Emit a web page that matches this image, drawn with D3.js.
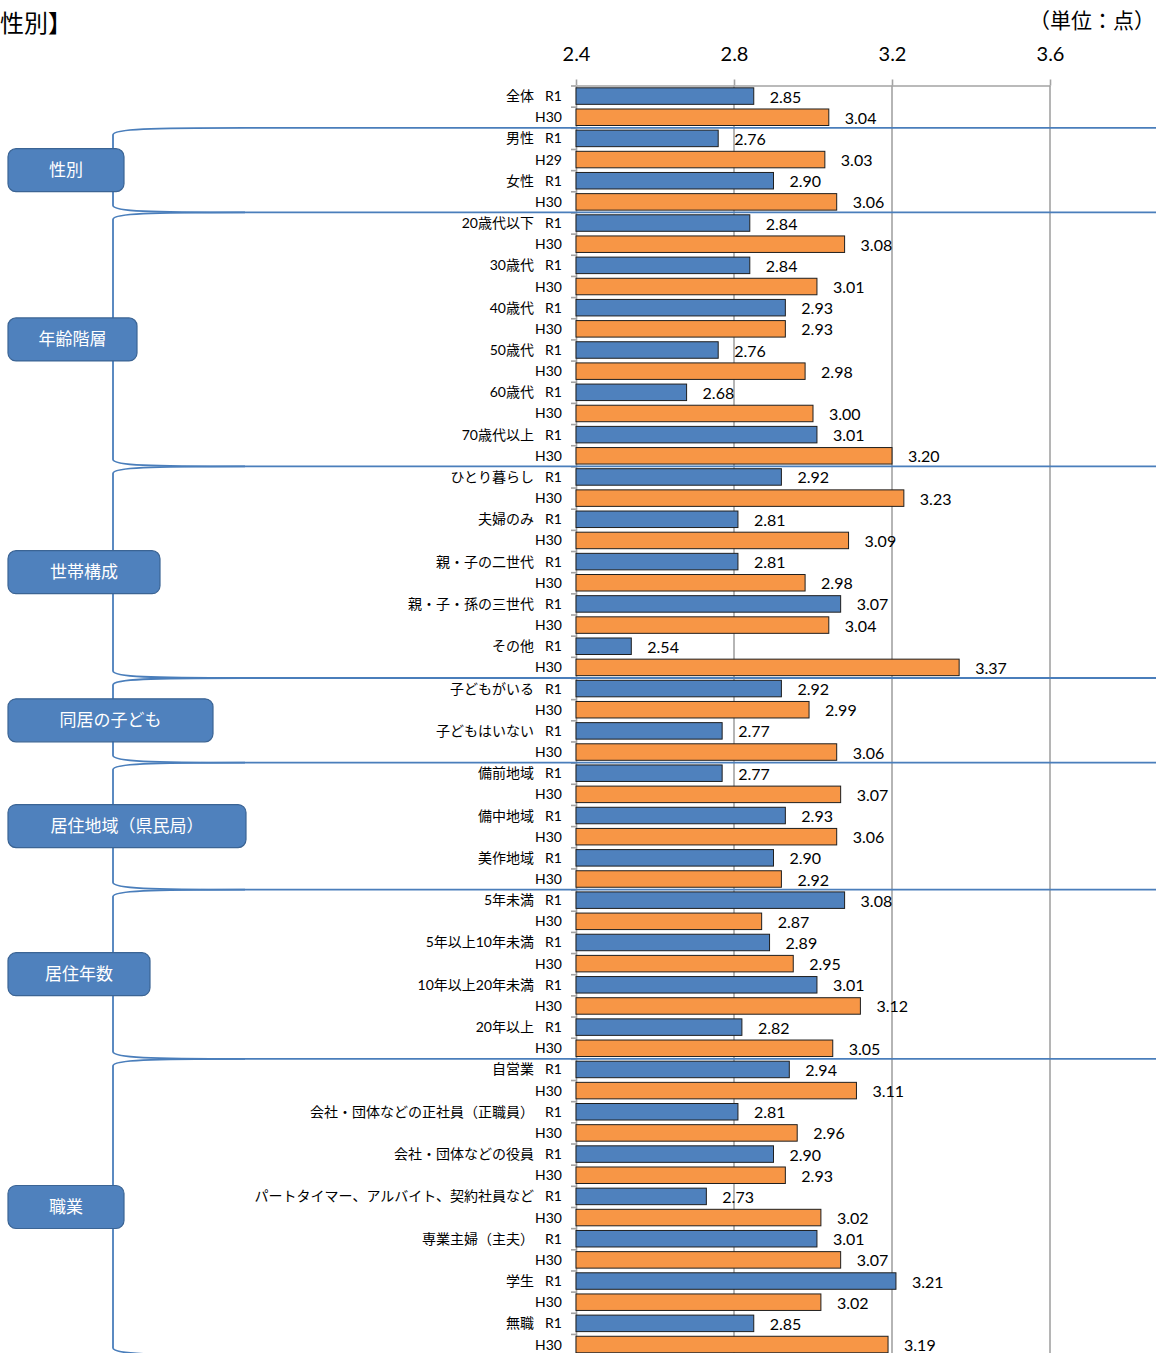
<!DOCTYPE html>
<html lang="ja">
<head>
<meta charset="utf-8">
<script src="https://cdn.jsdelivr.net/npm/d3@7/dist/d3.min.js"></script>
<style>
  html, body { margin: 0; padding: 0; background: #fff; overflow: hidden; }
  svg { display: block; }
  .latin { font-family: Lato, "Noto Sans CJK JP", sans-serif; }
</style>
</head>
<body>
<svg id="chart" width="1156" height="1353"></svg>
<script>
// ---- data ----------------------------------------------------------------
const groupNames = ["", "性別", "年齢階層", "世帯構成", "同居の子ども", "居住地域（県民局）", "居住年数", "職業"];

const categories = [
  "全体",
  "男性", "女性",
  "20歳代以下", "30歳代", "40歳代", "50歳代", "60歳代", "70歳代以上",
  "ひとり暮らし", "夫婦のみ", "親・子の二世代", "親・子・孫の三世代", "その他",
  "子どもがいる", "子どもはいない",
  "備前地域", "備中地域", "美作地域",
  "5年未満", "5年以上10年未満", "10年以上20年未満", "20年以上",
  "自営業", "会社・団体などの正社員（正職員）", "会社・団体などの役員",
  "パートタイマー、アルバイト、契約社員など", "専業主婦（主夫）", "学生", "無職"
];

const categoryGroup = [
  0,
  1, 1,
  2, 2, 2, 2, 2, 2,
  3, 3, 3, 3, 3,
  4, 4,
  5, 5, 5,
  6, 6, 6, 6,
  7, 7, 7, 7, 7, 7, 7
];

const currentLabel = "R1";
const currentValues = [
  2.85,
  2.76, 2.90,
  2.84, 2.84, 2.93, 2.76, 2.68, 3.01,
  2.92, 2.81, 2.81, 3.07, 2.54,
  2.92, 2.77,
  2.77, 2.93, 2.90,
  3.08, 2.89, 3.01, 2.82,
  2.94, 2.81, 2.90, 2.73, 3.01, 3.21, 2.85
];

const previousLabels = [
  "H30",
  "H29", "H30",
  "H30", "H30", "H30", "H30", "H30", "H30",
  "H30", "H30", "H30", "H30", "H30",
  "H30", "H30",
  "H30", "H30", "H30",
  "H30", "H30", "H30", "H30",
  "H30", "H30", "H30", "H30", "H30", "H30", "H30"
];
const previousValues = [
  3.04,
  3.03, 3.06,
  3.08, 3.01, 2.93, 2.98, 3.00, 3.20,
  3.23, 3.09, 2.98, 3.04, 3.37,
  2.99, 3.06,
  3.07, 3.06, 2.92,
  2.87, 2.95, 3.12, 3.05,
  3.11, 2.96, 2.93, 3.02, 3.07, 3.02, 3.19
];

const axisTicks = [2.4, 2.8, 3.2, 3.6];
const titleText = "性別】";
const unitText = "（単位：点）";

// ---- layout --------------------------------------------------------------
const step = 21.16;
const plotTop = 85.5;
const plotLeft = 576, plotRight = 1050;
const groupBoxWidths = [0, 116, 129, 152, 205, 238, 142, 116];

const COLORS = {
  current: "#4F81BD",
  previous: "#F79646",
  barStroke: "#1f1f1f",
  grid: "#A3A3A3",
  bracket: "#4A7EBB",
  box: "#4F81BD",
  boxStroke: "#3B6494"
};

// one row per bar: current then previous for every category
const rows = [];
categories.forEach((c, i) => {
  rows.push({ cat: i, name: c, series: currentLabel, value: currentValues[i], kind: "current" });
  rows.push({ cat: i, name: "", series: previousLabels[i], value: previousValues[i], kind: "previous" });
});

const svg = d3.select("#chart");

const x = d3.scaleLinear().domain([2.4, 3.6]).range([plotLeft, plotRight]);
const y = d3.scaleBand()
  .domain(d3.range(rows.length))
  .range([plotTop, plotTop + rows.length * step])
  .paddingInner(0.22)
  .paddingOuter(0.11);
const edge = d3.scaleLinear().domain([0, rows.length]).range([plotTop, plotTop + rows.length * step]);
const plotBottom = edge(rows.length);

// title and unit
svg.append("text")
  .attr("x", 0).attr("y", 32)
  .attr("font-family", "'Noto Sans CJK JP', sans-serif")
  .attr("font-size", 24)
  .attr("fill", "#000")
  .text(titleText);

svg.append("text")
  .attr("x", 1155).attr("y", 28)
  .attr("text-anchor", "end")
  .attr("font-family", "'Noto Sans CJK JP', sans-serif")
  .attr("font-size", 21)
  .attr("fill", "#000")
  .text(unitText);

// vertical gridlines
svg.append("g")
  .selectAll("line")
  .data(axisTicks.slice(1))
  .join("line")
  .attr("x1", d => x(d)).attr("x2", d => x(d))
  .attr("y1", plotTop).attr("y2", plotBottom + 5)
  .attr("stroke", COLORS.grid)
  .attr("stroke-width", 1.6);

// top axis
const xAxis = svg.append("g")
  .attr("transform", `translate(0,${plotTop})`)
  .call(d3.axisTop(x).tickValues(axisTicks).tickFormat(d3.format(".1f"))
    .tickSize(6).tickSizeOuter(0).tickPadding(19));
xAxis.select(".domain").attr("stroke", COLORS.grid).attr("stroke-width", 1.6);
xAxis.selectAll(".tick line").attr("stroke", COLORS.grid).attr("stroke-width", 1.6);
xAxis.selectAll(".tick text")
  .attr("class", "latin")
  .attr("font-size", 20)
  .attr("fill", "#000");

// left axis: ticks at each row boundary
const yAxis = svg.append("g")
  .attr("transform", `translate(${plotLeft},0)`)
  .call(d3.axisLeft(edge).tickValues(d3.range(rows.length + 1)).tickFormat("")
    .tickSize(5).tickSizeOuter(0));
yAxis.select(".domain").attr("stroke", COLORS.grid).attr("stroke-width", 1.6);
yAxis.selectAll(".tick line").attr("stroke", COLORS.grid).attr("stroke-width", 1.6);

// bars
svg.append("g")
  .selectAll("rect")
  .data(rows)
  .join("rect")
  .attr("x", x(2.4))
  .attr("y", (d, i) => y(i))
  .attr("width", d => x(d.value) - x(2.4))
  .attr("height", y.bandwidth())
  .attr("fill", d => d.kind === "current" ? COLORS.current : COLORS.previous)
  .attr("stroke", COLORS.barStroke)
  .attr("stroke-width", 1);

// value labels
svg.append("g")
  .selectAll("text")
  .data(rows)
  .join("text")
  .attr("class", "latin")
  .attr("x", d => x(d.value) + 16)
  .attr("y", (d, i) => y(i) + y.bandwidth() / 2 + 6.5)
  .attr("font-size", 16)
  .attr("fill", "#000")
  .text(d => d.value.toFixed(2));

// row labels: category name and survey label
const rowLabels = svg.append("g").attr("class", "latin").attr("font-size", 14).attr("fill", "#000");
rowLabels.selectAll("text.series")
  .data(rows)
  .join("text")
  .attr("class", "series")
  .attr("x", 562)
  .attr("y", (d, i) => y(i) + y.bandwidth() / 2 + 5)
  .attr("text-anchor", "end")
  .text(d => d.series);
rowLabels.selectAll("text.cat")
  .data(rows.filter(d => d.name))
  .join("text")
  .attr("class", "cat")
  .attr("x", 534)
  .attr("y", d => y(d.cat * 2) + y.bandwidth() / 2 + 5)
  .attr("text-anchor", "end")
  .text(d => d.name);

// group extents in row units
const groups = groupNames.map((name, g) => {
  const cats = categoryGroup.map((cg, i) => cg === g ? i : -1).filter(i => i >= 0);
  return { g, name, start: d3.min(cats) * 2, end: (d3.max(cats) + 1) * 2 };
});

// separator lines between groups
const bracketX = 113, joinX = 245;
svg.append("g")
  .selectAll("line")
  .data(groups.slice(1))
  .join("line")
  .attr("x1", joinX).attr("x2", 1156)
  .attr("y1", d => edge(d.start)).attr("y2", d => edge(d.start))
  .attr("stroke", COLORS.bracket)
  .attr("stroke-width", 1.8);

// brackets
svg.append("g")
  .selectAll("path")
  .data(groups.slice(1))
  .join("path")
  .attr("d", d => {
    const y0 = edge(d.start), y1 = edge(d.end);
    return `M${joinX},${y0} C150,${y0} ${bracketX},${y0 + 1} ${bracketX},${y0 + 7}` +
           ` L${bracketX},${y1 - 7} C${bracketX},${y1 - 1} 150,${y1} ${joinX},${y1}`;
  })
  .attr("fill", "none")
  .attr("stroke", COLORS.bracket)
  .attr("stroke-width", 1.8);

// group name boxes
const boxH = 43;
const boxes = svg.append("g")
  .selectAll("g")
  .data(groups.slice(1))
  .join("g")
  .attr("transform", d => `translate(8,${(edge(d.start) + edge(d.end)) / 2 - boxH / 2})`);
boxes.append("rect")
  .attr("width", d => groupBoxWidths[d.g])
  .attr("height", boxH)
  .attr("rx", 8)
  .attr("fill", COLORS.box)
  .attr("stroke", COLORS.boxStroke)
  .attr("stroke-width", 1.2);
boxes.append("text")
  .attr("x", d => groupBoxWidths[d.g] / 2)
  .attr("y", boxH / 2 + 6)
  .attr("text-anchor", "middle")
  .attr("font-family", "'Noto Sans CJK JP', sans-serif")
  .attr("font-size", 17)
  .attr("fill", "#fff")
  .text(d => d.name);
</script>
</body>
</html>
